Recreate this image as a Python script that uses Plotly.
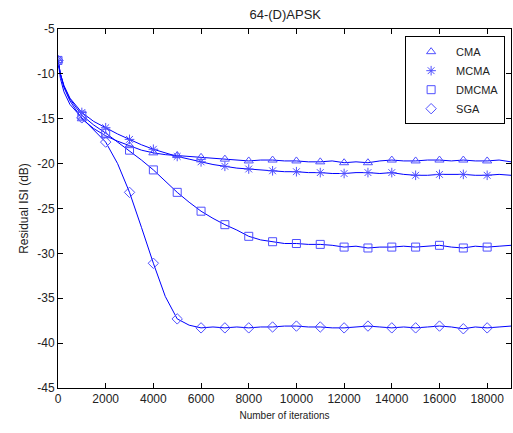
import plotly.graph_objects as go

# iteration grid for the curves
iters = [0, 100, 250, 500, 1000, 1500, 2000, 2500, 3000, 3500, 4000, 4500, 5000,
         5500, 6000, 6500, 7000, 7500, 8000, 8500, 9000, 9500, 10000, 10500, 11000,
         11500, 12000, 12500, 13000, 13500, 14000, 14500, 15000, 15500, 16000,
         16500, 17000, 17500, 18000, 18500, 19000]

cma = [-8.5, -10.0, -11.5, -13.0, -15.0, -16.1, -16.9, -17.5, -18.0, -18.5, -18.8,
       -19.0, -19.1, -19.2, -19.3, -19.4, -19.5, -19.6, -19.7, -19.6, -19.6, -19.7,
       -19.7, -19.8, -19.8, -19.7, -19.9, -19.8, -19.9, -19.7, -19.6, -19.7, -19.7,
       -19.6, -19.6, -19.7, -19.6, -19.7, -19.7, -19.6, -19.8]
mcma = [-8.5, -10.0, -11.3, -12.7, -14.3, -15.3, -16.0, -16.7, -17.3, -17.9, -18.4,
        -18.8, -19.2, -19.5, -19.8, -20.1, -20.3, -20.5, -20.6, -20.7, -20.8, -20.9,
        -20.9, -21.0, -21.0, -21.1, -21.1, -21.0, -21.0, -21.1, -21.0, -21.2, -21.3,
        -21.3, -21.2, -21.2, -21.2, -21.3, -21.3, -21.2, -21.3]
dmcma = [-8.5, -10.0, -11.4, -12.8, -14.6, -15.7, -16.6, -17.6, -18.5, -19.6, -20.7,
         -22.0, -23.2, -24.3, -25.3, -26.1, -26.8, -27.4, -28.1, -28.5, -28.7, -28.9,
         -28.9, -29.0, -29.0, -29.1, -29.3, -29.2, -29.4, -29.3, -29.3, -29.2, -29.3,
         -29.2, -29.1, -29.3, -29.4, -29.2, -29.3, -29.2, -29.1]
sga = [-8.5, -10.5, -12.0, -13.4, -14.9, -16.3, -17.6, -20.0, -23.2, -27.1, -31.1,
       -34.8, -37.3, -38.0, -38.3, -38.2, -38.3, -38.2, -38.3, -38.2, -38.2, -38.1,
       -38.1, -38.2, -38.2, -38.3, -38.3, -38.2, -38.1, -38.2, -38.3, -38.2, -38.3,
       -38.2, -38.1, -38.2, -38.4, -38.2, -38.3, -38.2, -38.1]

names = ["CMA", "MCMA", "DMCMA", "SGA"]
symbols = ["triangle-up-open", "asterisk-open", "square-open", "diamond-open"]
series = [cma, mcma, dmcma, sga]

xticks = list(range(0, 19000, 2000))
yticks = list(range(-45, 0, 5))

blue = "rgb(0,0,255)"
mblue = "rgb(80,80,255)"

fig = go.Figure()
for name, sym, ys in zip(names, symbols, series):
    fig.add_trace(go.Scatter(x=iters, y=ys, mode="lines", showlegend=False,
                             line=dict(color=blue, width=1)))
for name, sym, ys in zip(names, symbols, series):
    # markers every 1000 iterations
    mx = [x for x in iters if x % 1000 == 0 and x <= 18000]
    my = [y for x, y in zip(iters, ys) if x % 1000 == 0 and x <= 18000]
    fig.add_trace(go.Scatter(x=mx, y=my, mode="markers", name=name,
                             marker=dict(symbol=sym, size=8, color=mblue,
                                         line=dict(color=mblue, width=1))))

font = "Liberation Sans, Arial, sans-serif"
fig.update_layout(
    width=513, height=433,
    margin=dict(l=58, r=2, t=29, b=45),
    paper_bgcolor="white", plot_bgcolor="white",
    font=dict(family=font, size=12, color="#222"),
    title=dict(text="64-(D)APSK", x=0.556, xanchor="center", y=0.967,
               yanchor="middle", font=dict(size=13, color="#222")),
    legend=dict(x=0.987, y=0.98, xanchor="right", yanchor="top",
                bgcolor="white", bordercolor="black", borderwidth=1,
                font=dict(size=11, color="#222"), tracegroupgap=0,
                itemwidth=40),
)
fig.update_xaxes(range=[0, 19000], tickvals=xticks, ticktext=[str(v) for v in xticks],
                 ticks="inside", ticklen=5, tickcolor="black", mirror="ticks",
                 showline=True, linecolor="black", linewidth=1, showgrid=False,
                 zeroline=False, tickfont=dict(size=12), automargin=False,
                 title=dict(text="Number of iterations", font=dict(size=10),
                            standoff=6))
fig.update_yaxes(range=[-45, -5], tickvals=yticks, ticktext=[str(v) for v in yticks],
                 ticks="inside", ticklen=5, tickcolor="black", mirror="ticks",
                 showline=True, linecolor="black", linewidth=1, showgrid=False,
                 zeroline=False, tickfont=dict(size=12), automargin=False,
                 title=dict(text="Residual ISI (dB)", font=dict(size=12),
                            standoff=6))

# page body margin would shift the figure by 8px
fig.write_html("out.html", config={"displayModeBar": False},
               post_script="document.body.style.margin='0px';")
